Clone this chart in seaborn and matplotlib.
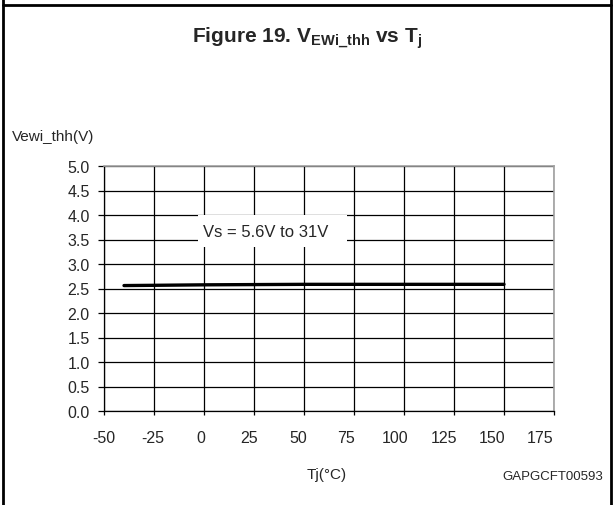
import matplotlib
matplotlib.use("Agg")
import matplotlib.pyplot as plt
from matplotlib.lines import Line2D
from matplotlib.patches import Rectangle
from matplotlib.transforms import ScaledTranslation
import seaborn as sns
import pandas as pd

# ---- data ----
tj_c = [-40, -25, 0, 25, 50, 75, 100, 125, 150]
vewi_thh_v = [2.56, 2.565, 2.575, 2.58, 2.585, 2.585, 2.585, 2.585, 2.585]
x_ticks = [-50, -25, 0, 25, 50, 75, 100, 125, 150, 175]
y_ticks = [0.0, 0.5, 1.0, 1.5, 2.0, 2.5, 3.0, 3.5, 4.0, 4.5, 5.0]

df = pd.DataFrame({"Tj": tj_c, "V": vewi_thh_v})

sns.set_style("white")
plt.rcParams["font.family"] = ["Liberation Sans", "DejaVu Sans"]
plt.rcParams["mathtext.fontset"] = "custom"
plt.rcParams["mathtext.rm"] = "Liberation Sans:bold"
plt.rcParams["mathtext.it"] = "Liberation Sans:bold"
plt.rcParams["mathtext.bf"] = "Liberation Sans:bold"

W, H = 615, 506
fig = plt.figure(figsize=(W / 100, H / 100), dpi=100)
fig.patch.set_facecolor("white")

L, R, T, B = 104, 554, 167, 412
ax = fig.add_axes([L / W, 1 - B / H, (R - L) / W, (B - T) / H])

sns.lineplot(data=df, x="Tj", y="V", ax=ax, color="black", linewidth=2.4, zorder=3)

ax.set_xlim(-50, 175)
ax.set_ylim(0, 5)
ax.set_xticks(x_ticks)
ax.set_yticks(y_ticks)
ax.set_xticklabels([str(t) for t in x_ticks])
ax.set_yticklabels([f"{t:.1f}" for t in y_ticks])
ax.grid(True, color="black", linewidth=0.9)
ax.set_xlabel("")
ax.set_ylabel("")

for s in ["left", "bottom"]:
    ax.spines[s].set_color("black")
    ax.spines[s].set_linewidth(0.9)
for s in ["top", "right"]:
    ax.spines[s].set_color("#a0a0a0")
    ax.spines[s].set_linewidth(1.2)

ax.tick_params(axis="y", direction="out", length=4.3, width=0.9, pad=6,
               labelsize=11.5, left=True, color="black")
ax.tick_params(axis="x", direction="out", length=3, width=0.9, pad=11,
               labelsize=11.5, bottom=True, color="black")

# x tick labels drift slightly left as in the original rendering
for k, lab in enumerate(ax.get_xticklabels()):
    lab.set_transform(lab.get_transform() +
                      ScaledTranslation(-1.5 * k / 100, 0, fig.dpi_scale_trans))

# annotation box
ax.add_patch(Rectangle((-3, 3.35), 74.5, 0.65, facecolor="white",
                       edgecolor="none", zorder=2.6))
ax.text(-0.5, 3.67, "Vs = 5.6V to 31V", fontsize=12, ha="left",
        va="center", zorder=4)

# texts
fig.text(307 / W, 1 - 38 / H, r"Figure 19. V$_{\mathrm{EWi\_thh}}$ vs T$_{\mathrm{j}}$",
         fontsize=15, fontweight="bold", ha="center", va="center")
fig.text(12 / W, 1 - 137 / H, "Vewi_thh(V)", fontsize=11, ha="left", va="center")
fig.text(327 / W, 1 - 475 / H, "Tj(°C)", fontsize=11, ha="center", va="center")
fig.text(603 / W, 1 - 477 / H, "GAPGCFT00593", fontsize=9.5, ha="right", va="center")

# frame lines
fig.add_artist(Line2D([3 / W, 611 / W], [1 - 6 / H, 1 - 6 / H], color="black", linewidth=2))
fig.add_artist(Line2D([3 / W, 3 / W], [0, 1], color="black", linewidth=2))
fig.add_artist(Line2D([611 / W, 611 / W], [0, 1], color="black", linewidth=2))

fig.savefig("out.png", dpi=100)
